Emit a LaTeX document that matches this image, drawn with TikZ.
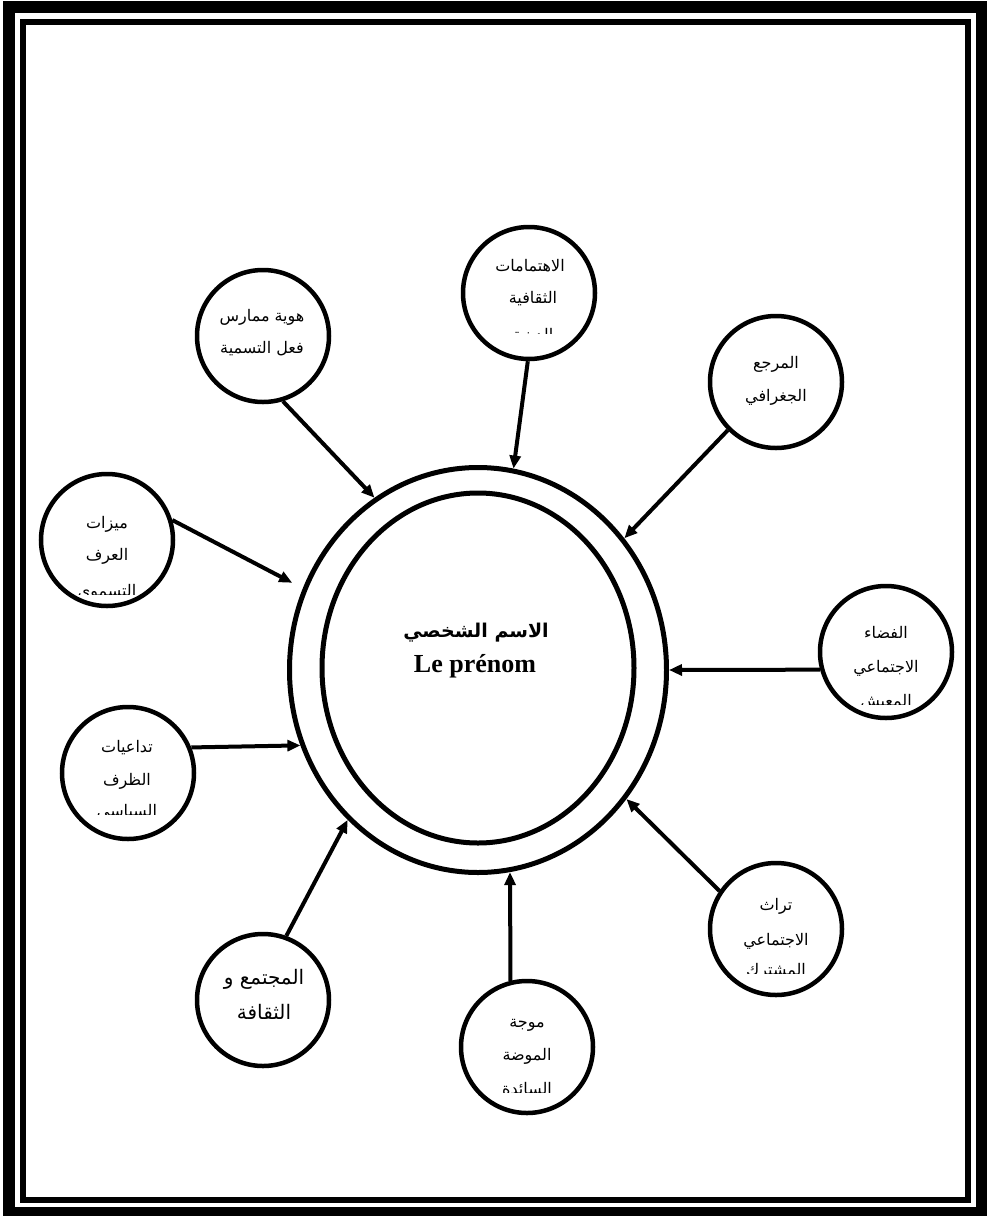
\documentclass[tikz,border=0pt]{standalone}
\usepackage{fontspec}
\setmainfont{Liberation Serif}
\newfontfamily\arabicfont[Script=Arabic]{DejaVu Sans}
\TeXXeTstate=1
\usetikzlibrary{arrows.meta,shapes.geometric}
\newcommand{\artxt}[1]{\beginR #1\endR}
\begin{document}
\begin{tikzpicture}[x=1pt,y=-1pt,
  bub/.style={circle,draw,line width=4.5pt,minimum size=132pt,inner sep=0pt},
  hub/.style={ellipse,draw,line width=5pt,inner sep=0pt},
  lbl/.style={inner sep=0pt,anchor=base,font=\arabicfont\fontsize{16}{18}\selectfont},
  biglbl/.style={inner sep=0pt,anchor=base,font=\arabicfont\fontsize{20}{22}\selectfont},
  arr/.style={line width=4pt,-{Triangle[length=13pt,width=11pt]}}]
\useasboundingbox (0,0) rectangle (986,1216);
\fill[white] (0,0) rectangle (986,1216);
\draw[line width=12pt] (9,7) rectangle (981.5,1212.5);
\draw[line width=6pt] (23,22) rectangle (968,1200);

% hub
\node[hub,minimum width=377pt,minimum height=405pt] (hubo) at (478,670) {};
\node[hub,minimum width=312pt,minimum height=350pt] (hubi) at (478,668) {};
\node[inner sep=0pt,font=\arabicfont\bfseries\fontsize{19}{21}\selectfont] (hta) at (476,633) {\artxt{الاسم الشخصي}};
\node[inner sep=0pt,font=\bfseries\fontsize{26}{28}\selectfont] (htb) at (475,666) {Le prénom};

% bubbles
\node[bub] (b1) at (529,293) {};
\node[bub] (b2) at (263,336) {};
\node[bub] (b3) at (776,382) {};
\node[bub] (b4) at (107,540) {};
\node[bub] (b5) at (886,652) {};
\node[bub] (b6) at (128,773) {};
\node[bub] (b7) at (776,929) {};
\node[bub] (b8) at (263,1000) {};
\node[bub] (b9) at (527,1047) {};

% labels
\node[lbl] (l1a) at (530,271) {\artxt{الاهتمامات}};
\node[lbl] (l1b) at (533,303) {\artxt{الثقافية}};
\begin{scope}
\clip (480,318) rectangle (580,333);
\node[lbl] (l1c) at (533,340) {\artxt{الدينية}};
\end{scope}

\node[lbl] (l2a) at (262,321) {\artxt{هوية ممارس}};
\node[lbl] (l2b) at (262,353) {\artxt{فعل التسمية}};

\node[lbl] (l3a) at (776,368) {\artxt{المرجع}};
\node[lbl] (l3b) at (776,401) {\artxt{الجغرافي}};

\node[lbl] (l4a) at (107,528) {\artxt{ميزات}};
\node[lbl] (l4b) at (107,560) {\artxt{العرف}};
\begin{scope}
\clip (45,575) rectangle (170,594);
\node[lbl] (l4c) at (107,596) {\artxt{التسموي}};
\end{scope}

\node[lbl] (l5a) at (886,638) {\artxt{الفضاء}};
\node[lbl] (l5b) at (886,672) {\artxt{الاجتماعي}};
\begin{scope}
\clip (825,686) rectangle (950,704);
\node[lbl] (l5c) at (886,706) {\artxt{المعيش}};
\end{scope}

\node[lbl] (l6a) at (127,752) {\artxt{تداعيات}};
\node[lbl] (l6b) at (127,785) {\artxt{الظرف}};
\begin{scope}
\clip (65,798) rectangle (190,814);
\node[lbl] (l6c) at (127,816) {\artxt{السياسي}};
\end{scope}

\node[lbl] (l7a) at (776,910) {\artxt{تراث}};
\node[lbl] (l7b) at (776,945) {\artxt{الاجتماعي}};
\begin{scope}
\clip (715,956) rectangle (840,973);
\node[lbl] (l7c) at (776,975) {\artxt{المشترك}};
\end{scope}

\node[biglbl] (l8a) at (264,984) {\artxt{المجتمع و}};
\node[biglbl] (l8b) at (264,1019) {\artxt{الثقافة}};

\node[lbl] (l9a) at (527,1027) {\artxt{موجة}};
\node[lbl] (l9b) at (527,1060) {\artxt{الموضة}};
\begin{scope}
\clip (465,1074) rectangle (590,1092);
\node[lbl] (l9c) at (527,1094) {\artxt{السائدة}};
\end{scope}

% arrows
\draw[arr] (b1.-91) -- (hubo.80.5);
\draw[arr] (b2.-73) -- (hubo.121);
\draw[arr] (b3.225) -- (hubo.42.5);
\draw[arr,shorten >=12pt] (b4.17) -- (hubo.155.5);
\draw[arr] (b5.195) -- (hubo.0);
\draw[arr] (b6.22) -- (hubo.203.5);
\draw[arr] (b7.146) -- (hubo.-41);
\draw[arr] (b8.70) -- (hubo.229.5);
\draw[arr] (b9.104) -- (hubo.-81);
\end{tikzpicture}
\end{document}
